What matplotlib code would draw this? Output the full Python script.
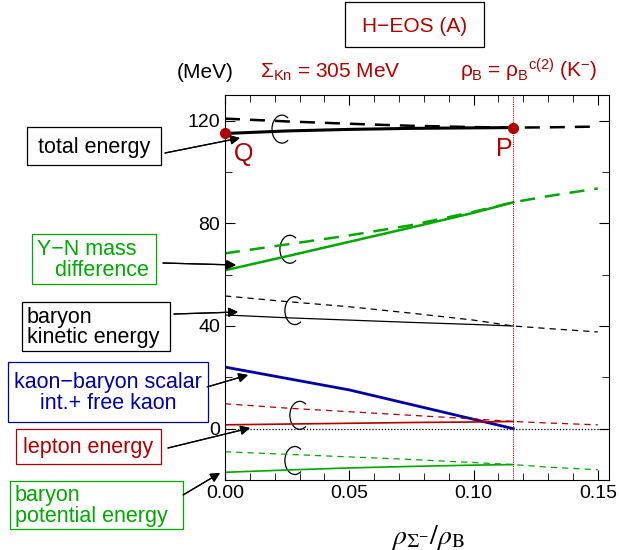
import numpy as np
import matplotlib.pyplot as plt
from matplotlib.patches import Arc, Rectangle
from matplotlib.ticker import MultipleLocator

plt.rcParams["font.family"] = ["Liberation Sans", "DejaVu Sans"]
plt.rcParams["mathtext.fontset"] = "custom"
plt.rcParams["mathtext.rm"] = "Liberation Sans"
plt.rcParams["mathtext.it"] = "Liberation Sans"

RED = "#b00000"
GREEN = "#00a800"
BLUE = "#0000a8"
BLACK = "black"

# rho_Sigma- / rho_B grid, up to the critical point P and beyond
x_sol = [0.0, 0.025, 0.05, 0.075, 0.10, 0.116]
x_dash = [0.0, 0.025, 0.05, 0.075, 0.10, 0.116, 0.13, 0.15]
x_P = 0.116

total_sol = [115.0, 116.0, 116.6, 117.0, 117.2, 117.3]
total_dash = [120.8, 119.7, 118.8, 118.0, 117.5, 117.3, 117.4, 117.7]

yn_sol = [61.7, 67.2, 72.8, 78.4, 84.1, 88.2]
yn_dash = [68.3, 71.8, 75.3, 79.3, 84.5, 88.2, 90.6, 93.6]

kin_sol = [44.3, 43.2, 42.3, 41.4, 40.6, 40.0]
kin_dash = [51.7, 49.5, 47.5, 45.0, 42.3, 40.0, 39.0, 37.7]

kaon_x = [0.0, 0.05, 0.116]
kaon_sol = [24.0, 15.1, 0.0]

lep_sol = [1.5, 1.8, 2.1, 2.4, 2.6, 2.8]
lep_dash = [9.7, 8.0, 6.6, 5.2, 3.8, 2.8, 2.2, 1.5]

pot_sol = [-17.0, -16.1, -15.3, -14.7, -14.2, -14.0]
pot_dash = [-9.0, -10.0, -11.0, -12.0, -13.2, -14.0, -15.0, -16.0]

E_Q = total_sol[0]
E_P = total_sol[-1]

W, H = 619, 550
fig = plt.figure(figsize=(W / 100, H / 100), dpi=100)
ax = fig.add_axes([225 / W, 1 - 480 / H, 384 / W, 385 / H])


def fx(px):
    return px / W


def fy(py):
    return 1 - py / H


# dashed: normal state, solid: Sigma- mixed state
ax.plot(x_dash, total_dash, color=BLACK, lw=1.8, ls=(0, (6, 4)))
ax.plot(x_sol, total_sol, color=BLACK, lw=2.2)
ax.plot(x_dash, yn_dash, color=GREEN, lw=1.8, ls=(0, (6, 4)))
ax.plot(x_sol, yn_sol, color=GREEN, lw=1.8)
ax.plot(x_dash, kin_dash, color=BLACK, lw=0.9, ls=(0, (5, 4)))
ax.plot(x_sol, kin_sol, color=BLACK, lw=0.9)
ax.plot(kaon_x, kaon_sol, color=BLUE, lw=2.0)
ax.plot(x_dash, lep_dash, color=RED, lw=0.9, ls=(0, (5, 4)))
ax.plot(x_sol, lep_sol, color=RED, lw=1.2)
ax.plot(x_dash, pot_dash, color=GREEN, lw=0.9, ls=(0, (5, 4)))
ax.plot(x_sol, pot_sol, color=GREEN, lw=1.2)

ax.axhline(0, color=BLACK, lw=0.9, ls=(0, (1, 1.5)))
ax.axvline(x_P, color=RED, lw=0.8, ls=(0, (1, 1)))

ax.plot([0.0, x_P], [E_Q, E_P], "o", color=RED, ms=7, clip_on=False, zorder=5)
ax.text(0.0075, E_Q - 3.5, "Q", color=RED, fontsize=18, ha="center", va="top")
ax.text(x_P - 0.0035, E_P - 3.5, "P", color=RED, fontsize=18, ha="center", va="top")

# braces joining each solid/dashed pair; Arc stretches its angles by
# width/height in data units, so convert the wanted parametric angle
bw, bh = 0.0080, 10.9
t_open = np.radians(52)
th = np.degrees(np.arctan2(np.sin(t_open) * bh, np.cos(t_open) * bw))
for bx, by in [(0.0229, 116.7), (0.0261, 69.9), (0.0281, 46.0), (0.0301, 5.2), (0.0281, -12.4)]:
    ax.add_patch(Arc((bx, by), bw, bh, theta1=th, theta2=360 - th, color=BLACK, lw=0.9))

ax.set_xlim(0, 0.1545)
ax.set_ylim(-20, 130)
ax.xaxis.set_major_locator(MultipleLocator(0.05))
ax.xaxis.set_minor_locator(MultipleLocator(0.01))
ax.yaxis.set_major_locator(MultipleLocator(40))
ax.yaxis.set_minor_locator(MultipleLocator(20))
ax.xaxis.set_major_formatter(lambda v, p: f"{v:.2f}")
ax.tick_params(which="both", direction="in", top=True, right=True, labelsize=14)
ax.tick_params(which="major", length=7)
ax.tick_params(which="minor", length=5)

fig.text(fx(428), fy(537), r"$\rho_{\Sigma^{-}}/\rho_{\rm B}$", fontsize=20,
         ha="center", va="center", math_fontfamily="stix")

# header texts
fig.add_artist(Rectangle((fx(345), fy(47)), fx(139), 45 / H, transform=fig.transFigure,
                         fc="white", ec=BLACK, lw=0.9))
fig.text(fx(415), fy(26), "H\u2212EOS (A)", color=RED, fontsize=15, ha="center", va="center")
fig.text(fx(205), fy(72), "(MeV)", fontsize=15, ha="center", va="center")
fig.text(fx(330), fy(72), r"$\Sigma_{\rm Kn}$ = 305 MeV", color=RED, fontsize=15,
         ha="center", va="center")
fig.text(fx(529), fy(70), r"$\rho_{\rm B}$ = $\rho_{\rm B}{}^{\rm c(2)}$ (K$^{-}$)", color=RED,
         fontsize=15, ha="center", va="center")

# boxed labels: text, colour, box (x0, y0, x1, y1) in pixels, alignment
labels = [
    ("total energy", BLACK, (27, 127, 161, 165), "center"),
    ("Y\u2212N mass\n   difference", GREEN, (32, 234, 156, 284), "left"),
    ("baryon\nkinetic energy", BLACK, (22, 302, 170, 351), "left"),
    ("kaon\u2212baryon scalar\nint.+ free kaon", BLUE, (8, 362, 208, 422), "center"),
    ("lepton energy", RED, (16, 429, 161, 464), "center"),
    ("baryon\npotential energy", GREEN, (10, 481, 183, 529), "left"),
]
for txt, col, (x0, y0, x1, y1), align in labels:
    fig.add_artist(Rectangle((fx(x0), fy(y1)), (x1 - x0) / W, (y1 - y0) / H,
                             transform=fig.transFigure, fc="white", ec=col, lw=0.9))
    if align == "left":
        tx, ha = fx(x0 + 5), "left"
    else:
        tx, ha = fx((x0 + x1) / 2), "center"
    fig.text(tx, fy((y0 + y1) / 2 + 1), txt, color=col, fontsize=15.5, ha=ha, va="center",
             multialignment=align, linespacing=1.0)

arrows = [
    ((165, 153), (240, 138)),
    ((163, 263), (236, 265)),
    ((174, 314), (238, 312)),
    ((207, 387), (248, 375)),
    ((168, 448), (250, 428)),
    ((183, 495), (220, 473)),
]
for (sx, sy), (ex, ey) in arrows:
    fig.add_artist(plt.annotate("", xy=(fx(ex), fy(ey)), xytext=(fx(sx), fy(sy)),
                                xycoords="figure fraction", textcoords="figure fraction",
                                arrowprops=dict(arrowstyle="-|>", color=BLACK, lw=0.9,
                                                mutation_scale=14, shrinkA=0, shrinkB=0)))

fig.savefig("out.png", dpi=100)
